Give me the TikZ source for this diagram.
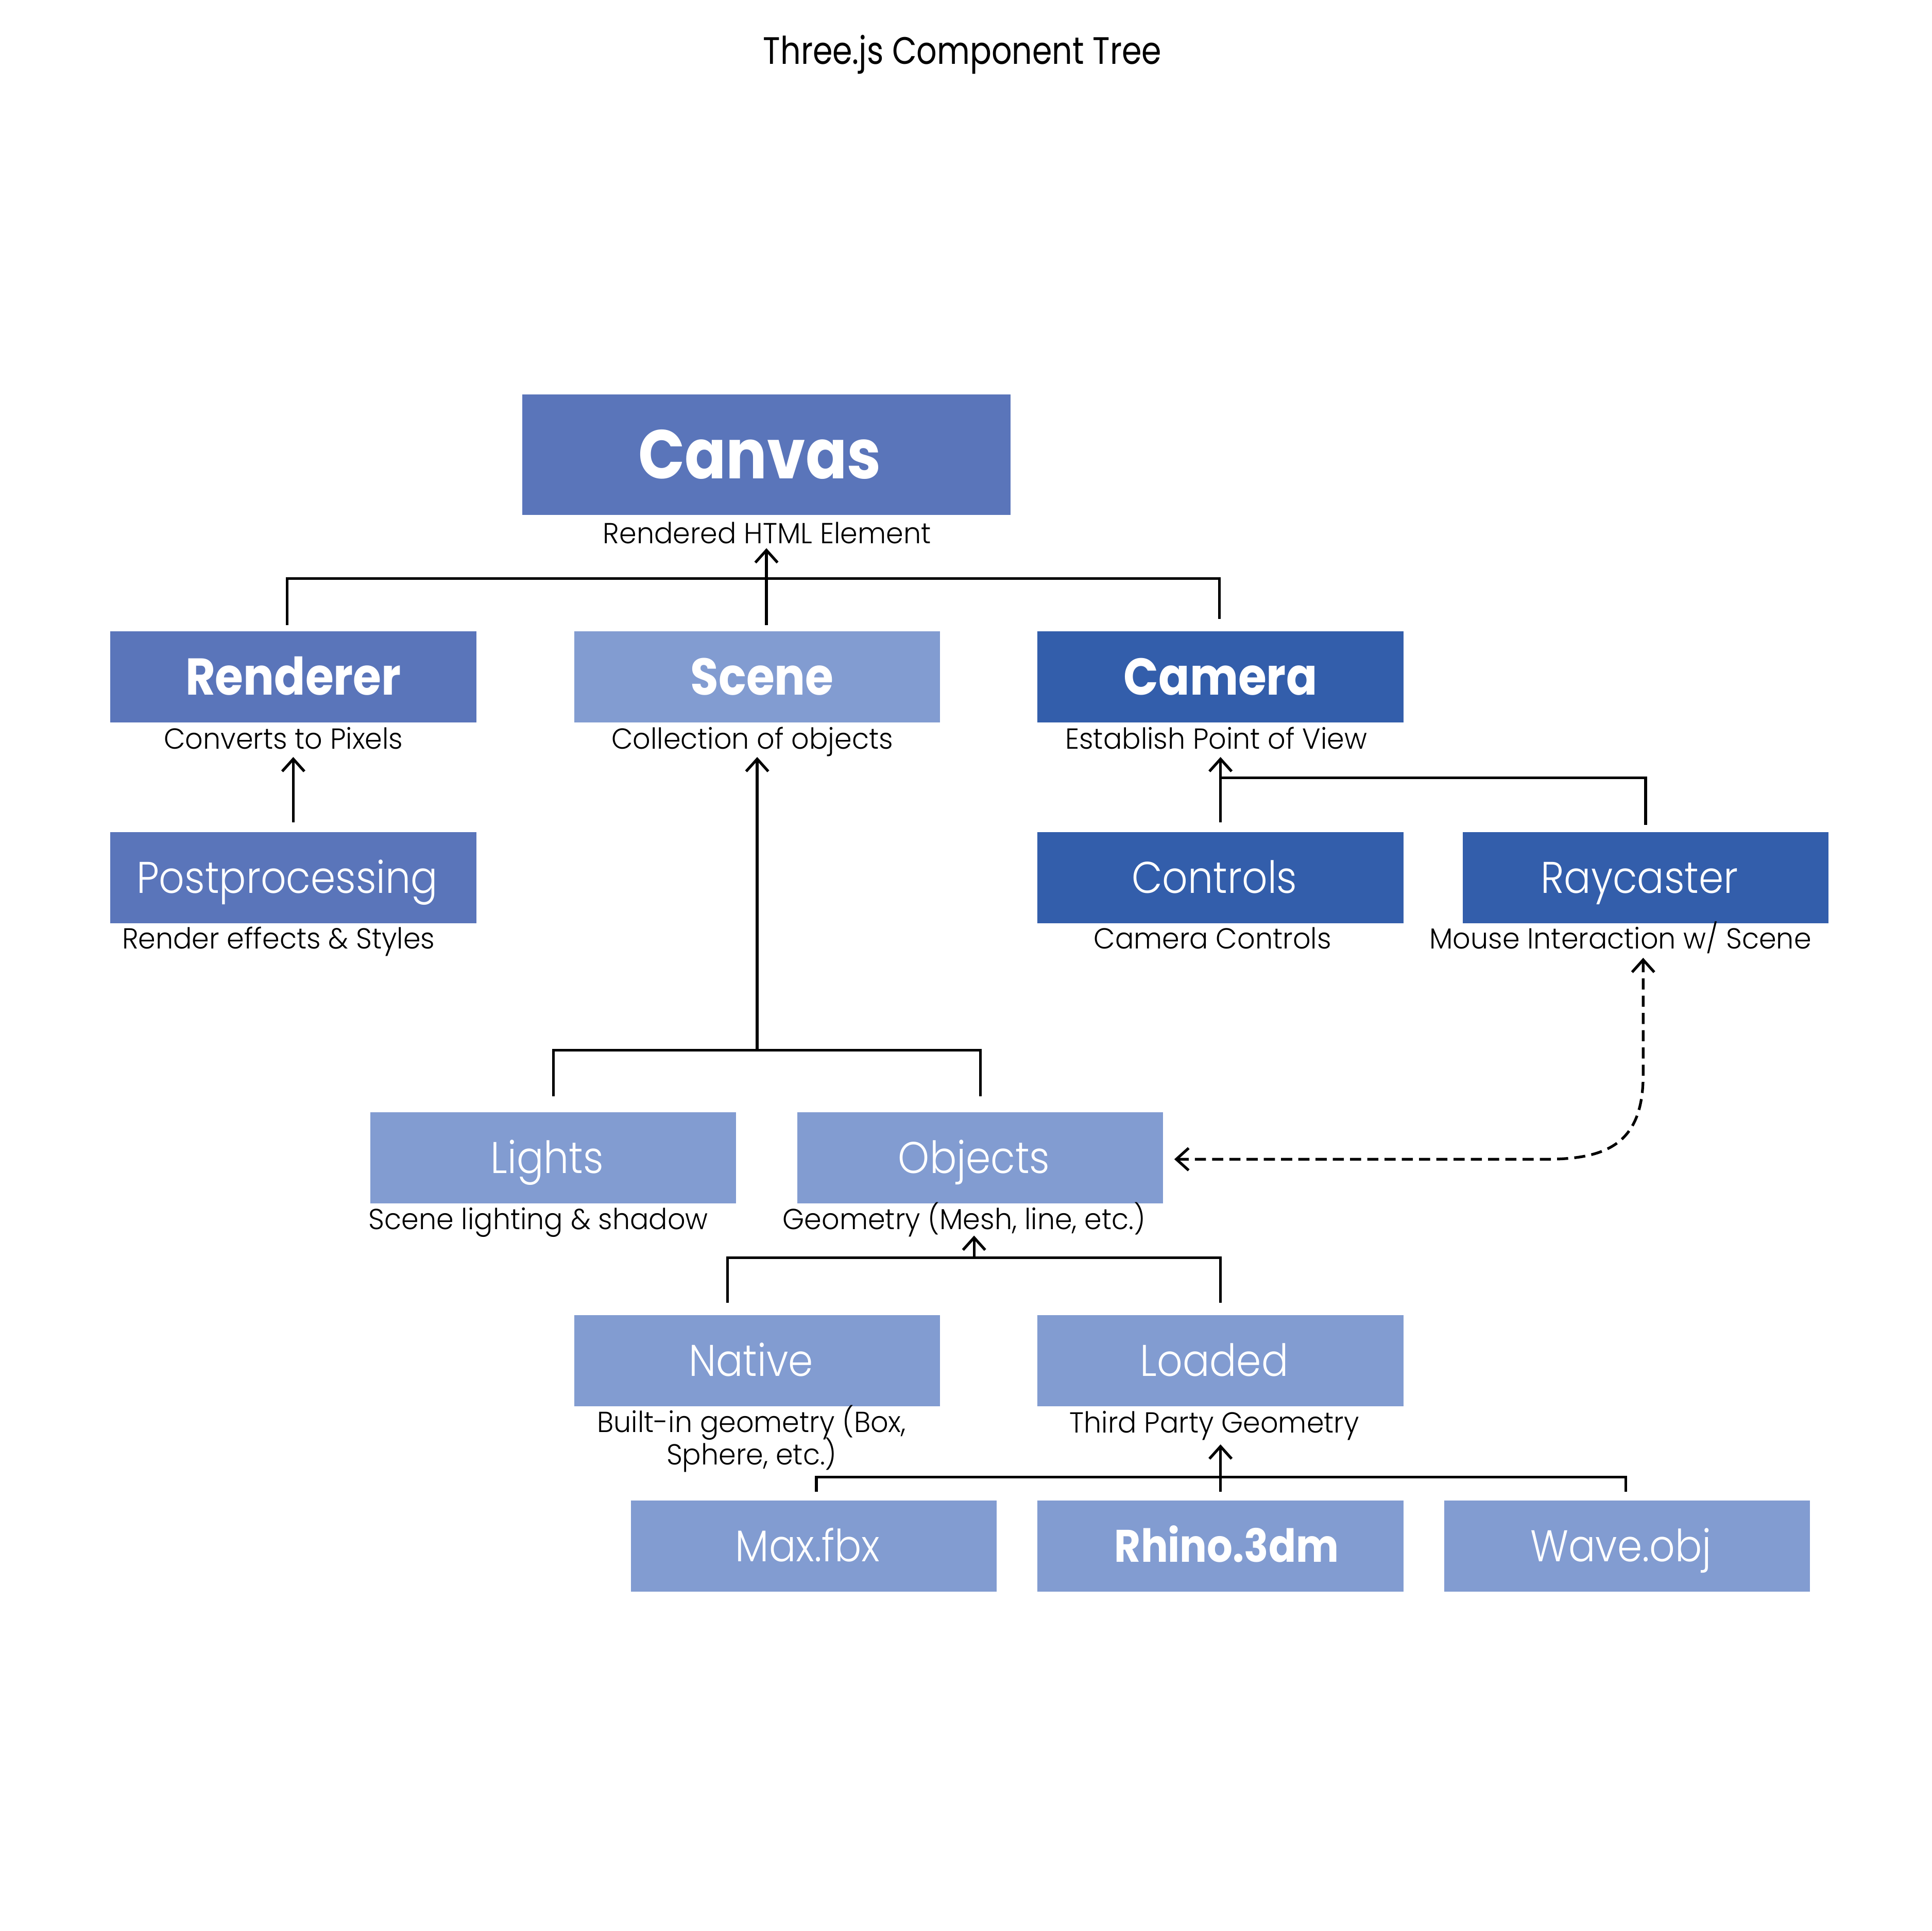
\documentclass[tikz,border=0pt]{standalone}
\usepackage{fontspec}
\setmainfont{Poppins}
\newfontfamily\titlef{Poppins}[FakeStretch=0.835]
\newfontfamily\labf{Poppins Light}[FakeStretch=0.96]
\newfontfamily\lightf{Poppins Light}[FakeStretch=0.9]
\newfontfamily\boldf{Poppins Bold}[FakeStretch=0.885]
\usetikzlibrary{arrows.meta,calc}
\definecolor{cmid}{HTML}{5A75BA}
\definecolor{clight}{HTML}{829CD1}
\definecolor{cdark}{HTML}{335EAB}
\tikzset{
  box/.style={rectangle, inner sep=0pt, outer sep=0pt, minimum width=297pt, minimum height=74pt, text=white, text depth=0pt},
  bigbold/.style={box, font=\boldf\fontsize{42}{46}\selectfont, text height=29.3pt},
  thinbox/.style={box, font=\lightf\fontsize{36}{40}\selectfont, text height=25.1pt, execute at end node={\hspace*{10pt}}},
  lab/.style={font=\labf\fontsize{23.5}{26}\selectfont, inner sep=0pt, anchor=base, align=center},
  conn/.style={line width=2.2pt, black},
  arr/.style={conn, -{Straight Barb[length=10pt,width=18pt]}},
  dasharr/.style={conn, dash pattern=on 9pt off 5pt, {Straight Barb[length=10pt,width=18pt]}-{Straight Barb[length=10pt,width=18pt]}}
}
\begin{document}
\begin{tikzpicture}[x=1pt,y=-1pt]
\path[use as bounding box, fill=white] (0,0) rectangle (1567.5,1567.5);

\node[anchor=base, inner sep=0pt, font=\titlef\fontsize{31}{34}\selectfont] (title) at (781,52) {Three.js Component Tree};

% boxes
\node[box, fill=cmid, minimum width=396pt, minimum height=98pt, font=\boldf\fontsize{56}{60}\selectfont, text height=39pt] (canvas) at (622,369) {Canvas\hspace*{11pt}};
\node[bigbold, fill=cmid] (renderer) at (238,549.5) {Renderer};
\node[bigbold, fill=clight] (scene) at (614.5,549.5) {\hspace*{8pt}Scene};
\node[bigbold, fill=cdark] (camera) at (990.5,549.5) {Camera};
\node[thinbox, fill=cmid] (post) at (238,712.5) {Postprocessing};
\node[thinbox, fill=cdark] (controls) at (990.5,712.5) {Controls};
\node[thinbox, fill=cdark] (raycaster) at (1335.5,712.5) {Raycaster};
\node[thinbox, fill=clight] (lights) at (449,940) {Lights};
\node[thinbox, fill=clight] (objects) at (795.5,940) {Objects};
\node[thinbox, fill=clight] (native) at (614.5,1104.5) {Native};
\node[thinbox, fill=clight] (loaded) at (990.5,1104.5) {Loaded};
\node[thinbox, fill=clight] (max) at (660.5,1255) {Max.fbx};
\node[box, fill=clight, font=\boldf\fontsize{37}{40}\selectfont, text height=25.8pt] (rhino) at (990.5,1255) {\hspace*{10pt}Rhino.3dm};
\node[thinbox, fill=clight] (wave) at (1320.5,1255) {Wave.obj};

% labels
\node[lab] (canvaslab) at (622.5,441) {Rendered HTML Element};
\node[lab] (rendererlab) at (230,608) {Converts to Pixels};
\node[lab] (scenelab) at (610.5,608) {Collection of objects};
\node[lab] (cameralab) at (987,608) {Establish Point of View};
\node[lab] (postlab) at (226,770) {Render effects \& Styles};
\node[lab] (controlslab) at (984,770) {Camera Controls};
\node[lab] (raylab) at (1315,770) {Mouse Interaction w/ Scene};
\node[lab] (lightslab) at (437,998) {Scene lighting \& shadow};
\node[lab] (objectslab) at (782.5,998) {Geometry (Mesh, line, etc.)};
\node[lab] (nativelab) at (610,1189) {Built-in geometry (Box,\\[-3pt]Sphere, etc.)};
\node[lab] (loadedlab) at (985.5,1163) {Third Party Geometry};

% canvas tree
\draw[conn] ($(renderer.north)+(-5,-5)$) -- ++(0,-38) -| ($(camera.north)+(-1,-10)$);
\draw[arr] ($(canvas.south |- scene.north)+(0,-5)$) -- ($(canvas.south)+(0,27)$);
% renderer
\draw[arr] ($(post.north)+(0,-8)$) -- ($(renderer.south)+(0,28)$);
% scene tree
\coordinate (sj) at ($(scene.south)+(0,266)$);
\draw[conn] ($(lights.north)+(0,-13)$) |- (sj) -| ($(objects.north)+(0,-13)$);
\draw[arr] (sj) -- ($(scene.south)+(0,28)$);
% camera tree
\draw[arr] ($(controls.north)+(0,-8)$) -- ($(camera.south)+(0,28)$);
\draw[conn] ($(raycaster.north)+(0,-6)$) |- ($(camera.south)+(0,45)$);
% objects tree
\coordinate (oj) at ($(objects.south)+(-5,44)$);
\draw[conn] ($(native.north)+(-24,-10)$) |- (oj) -| ($(loaded.north)+(0,-10)$);
\draw[arr] (oj) -- ($(objects.south)+(-5,26)$);
% loaded tree
\coordinate (lj) at ($(rhino.north)+(0,-19)$);
\draw[conn] ($(max.north)+(2,-7)$) |- (lj) -| ($(wave.north)+(-1,-7)$);
\draw[arr] ($(rhino.north)+(0,-7)$) -- ($(loaded.south)+(0,31)$);
% dashed
\coordinate (d1) at ($(raycaster.south)+(-2,28)$);
\coordinate (d2) at ($(objects.east)+(9,1)$);
\coordinate (d3) at (1255,941);
\draw[dasharr] (d1) -- ++(0,95) .. controls +(0,55) and +(50,0) .. (d3) -- (d2);
\end{tikzpicture}
\end{document}
